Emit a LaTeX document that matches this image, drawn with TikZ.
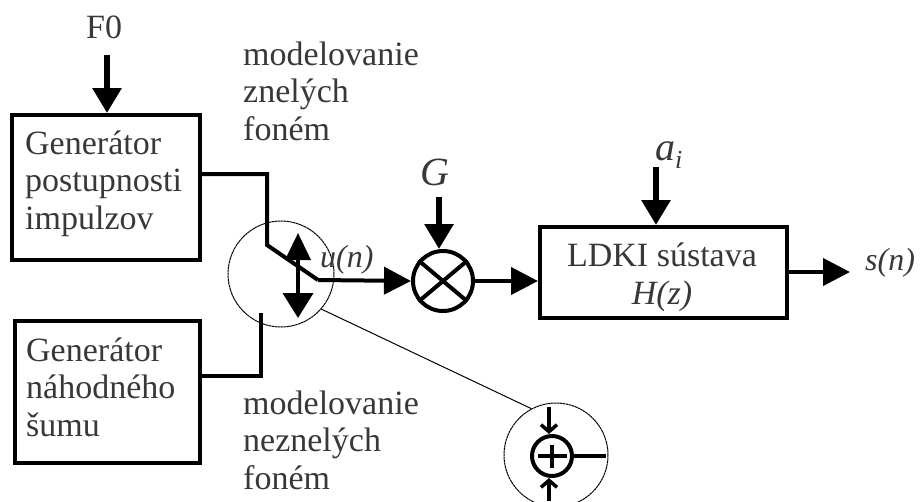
\documentclass[tikz,border=0pt]{standalone}
\usepackage{fontspec}
\setmainfont{Liberation Serif}
\usetikzlibrary{arrows.meta}
\tikzset{
 x=1pt,y=-1pt,
 blockbox/.style={draw,line width=4pt,inner sep=0pt},
 lab/.style={font=\fontsize{34}{37.5}\selectfont,text=black!78,align=left,inner sep=0pt,anchor=base west},
 ital/.style={font=\fontsize{32}{37.5}\selectfont\itshape,text=black!78,inner sep=0pt,anchor=base west},
 flow/.style={line width=4pt,-{Triangle[length=27pt,width=27pt]}},
 feed/.style={line width=6pt,-{Triangle[length=25pt,width=28pt]}},
 thin circ/.style={draw,circle,line width=1pt,dash pattern=on 2.5pt off .5pt,inner sep=0pt},
 thick circ/.style={draw,circle,line width=4pt,inner sep=0pt},
}
\begin{document}
\begin{tikzpicture}
\useasboundingbox (0,0) rectangle (920,501);
\node[blockbox,minimum width=188pt,minimum height=145pt] (b1) at (106,187.5) {};
\node[blockbox,minimum width=185pt,minimum height=142pt] (b2) at (107.5,392) {};
\node[blockbox,minimum width=247pt,minimum height=91pt] (ld) at (663.5,272.5) {};
\node[lab] (t1) at (25,229) {Generátor\\postupnosti\\impulzov};
\node[lab] (t2) at (26,436) {Generátor\\náhodného\\šumu};
\node[lab,align=center,anchor=base] (t3) at (662,304) {LDKI sústava\\\textit{H(z)}};
\node[lab] (f0) at (86,38) {F0};
\coordinate (f0s) at (107,55);
\draw[feed] (f0s) -- (b1.north -| f0s);
\node[lab] (m1) at (243,140) {modelovanie\\znelých\\foném};
\node[lab] (m2) at (243,489) {modelovanie\\neznelých\\foném};
\node[thin circ,minimum size=106pt] (sw) at (281,274) {};
\node[thick circ,minimum size=60pt] (mul) at (443,281) {};
\draw[line width=4pt] (mul.40) -- (mul.220) (mul.140) -- (mul.320);
\node[ital,font=\fontsize{40}{40}\selectfont\itshape] (g) at (420,185) {G};
\coordinate (gs) at (439,197);
\draw[feed] (gs) -- (mul.north -| gs);
\node[ital,font=\fontsize{40}{40}\selectfont\itshape] (ai) at (655,160) {a\raisebox{-8pt}{\fontsize{26}{26}\selectfont i}};
\coordinate (as) at (656,167);
\draw[feed] (as) -- (ld.north -| as);
\node[ital] (un) at (320,267) {u(n)};
\node[ital] (sn) at (865,270) {s(n)};
\coordinate (k1) at (267,174);
\coordinate (k2) at (267,245);
\coordinate (k3) at (318,280);
\draw[line width=4pt,line join=miter] (b1.east |- k1) -- (k1) -- (k2) -- (k3);
\draw[flow] (k3) -- (mul.west);
\coordinate (sw1) at (298,262);
\coordinate (sa) at (298,233);
\coordinate (sb) at (298,318);
\draw[line width=4pt,-{Triangle[length=27pt,width=25pt]}] (sw1) -- (sa);
\draw[line width=4pt,-{Triangle[length=25pt,width=30pt]}] (sw1) -- (sb);
\coordinate (q1) at (261,313);
\draw[line width=4pt,line join=miter] (b2.east |- 0,376) -- (261,376) -- (q1);
\draw[flow] (mul.east) -- (ld.west |- mul);
\coordinate (se) at (850,272);
\draw[flow] (ld.east |- se) -- (se);
\node[thin circ,minimum size=104pt] (big) at (556,455) {};
\node[thick circ,minimum size=40pt] (add) at (552,456) {};
\draw[line width=4pt] (538,456) -- (567,456) (552,445) -- (552,468);
\draw[line width=1pt] (sw.-41) -- (big.118);
\coordinate (bt) at (549,407);
\coordinate (bb) at (549,501);
\coordinate (br) at (606,456);
\draw[line width=3.5pt,-{Straight Barb[length=7pt,width=16pt]}] (bt) -- (add.north -| bt);
\draw[line width=3.5pt,-{Straight Barb[length=7pt,width=16pt]}] (bb) -- (add.south -| bb);
\draw[line width=3.5pt] (add.east) -- (br);
\end{tikzpicture}
\end{document}
